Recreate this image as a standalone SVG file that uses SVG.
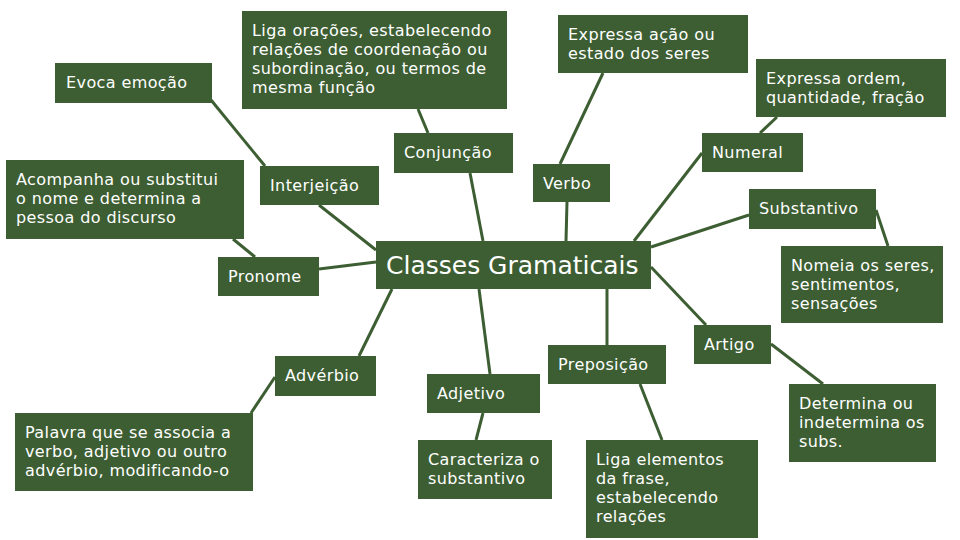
<svg xmlns="http://www.w3.org/2000/svg" width="960" height="540" viewBox="0 0 960 540">
<style>
.box{fill:#3d5e32}
.t{font-family:"DejaVu Sans","Noto Sans",sans-serif;font-size:16px;letter-spacing:0.4px;fill:#ffffff}
.title{font-family:"DejaVu Sans","Noto Sans",sans-serif;font-size:25px;fill:#ffffff}
#connectors line{stroke:#3d5e32;stroke-width:3;stroke-linecap:butt}
</style>
<rect x="0" y="0" width="960" height="540" fill="#ffffff"/>
<g id="connectors">
<line x1="211" y1="100" x2="265" y2="166"/>
<line x1="418" y1="109" x2="428" y2="133"/>
<line x1="470" y1="173" x2="483" y2="241"/>
<line x1="319" y1="205" x2="376" y2="250"/>
<line x1="233" y1="239" x2="255" y2="257"/>
<line x1="319" y1="269" x2="376" y2="262"/>
<line x1="603" y1="73" x2="560" y2="164"/>
<line x1="567" y1="202" x2="566" y2="241"/>
<line x1="702" y1="153" x2="634" y2="241"/>
<line x1="777" y1="117" x2="760" y2="133"/>
<line x1="749" y1="215" x2="651" y2="247"/>
<line x1="876" y1="210" x2="888" y2="246"/>
<line x1="651" y1="267" x2="706" y2="325"/>
<line x1="771" y1="344" x2="823" y2="384"/>
<line x1="479" y1="289" x2="490" y2="374"/>
<line x1="483" y1="413" x2="476" y2="440"/>
<line x1="607" y1="289" x2="607" y2="345"/>
<line x1="640" y1="384" x2="662" y2="440"/>
<line x1="359" y1="356" x2="392" y2="289"/>
<line x1="251" y1="413" x2="275" y2="377"/>
</g>
<g id="classes"><rect class="box" x="376" y="241" width="275" height="48"/><text class="title" x="386" y="274">Classes Gramaticais</text></g>
<g id="liga-oracoes"><rect class="box" x="242" y="11" width="265" height="98"/><text class="t"><tspan x="252" y="36">Liga orações, estabelecendo</tspan><tspan x="252" y="55">relações de coordenação ou</tspan><tspan x="252" y="74">subordinação, ou termos de</tspan><tspan x="252" y="93">mesma função</tspan></text></g>
<g id="evoca"><rect class="box" x="55" y="63" width="157" height="40"/><text class="t" x="66" y="88">Evoca emoção</text></g>
<g id="conjuncao"><rect class="box" x="394" y="133" width="119" height="40"/><text class="t" x="404" y="158">Conjunção</text></g>
<g id="interjeicao"><rect class="box" x="260" y="166" width="119" height="39"/><text class="t" x="270" y="191">Interjeição</text></g>
<g id="acompanha"><rect class="box" x="6" y="160" width="238" height="79"/><text class="t"><tspan x="16" y="185">Acompanha ou substitui</tspan><tspan x="16" y="204">o nome e determina a</tspan><tspan x="16" y="223">pessoa do discurso</tspan></text></g>
<g id="pronome"><rect class="box" x="218" y="257" width="101" height="39"/><text class="t" x="228" y="282">Pronome</text></g>
<g id="expressa-acao"><rect class="box" x="558" y="15" width="190" height="58"/><text class="t"><tspan x="568" y="40">Expressa ação ou</tspan><tspan x="568" y="59">estado dos seres</tspan></text></g>
<g id="expressa-ordem"><rect class="box" x="756" y="59" width="190" height="58"/><text class="t"><tspan x="766" y="84">Expressa ordem,</tspan><tspan x="766" y="103">quantidade, fração</tspan></text></g>
<g id="numeral"><rect class="box" x="702" y="133" width="101" height="39"/><text class="t" x="712" y="158">Numeral</text></g>
<g id="verbo"><rect class="box" x="533" y="164" width="77" height="38"/><text class="t" x="543" y="189">Verbo</text></g>
<g id="substantivo"><rect class="box" x="749" y="189" width="127" height="40"/><text class="t" x="759" y="214">Substantivo</text></g>
<g id="nomeia"><rect class="box" x="781" y="246" width="162" height="77"/><text class="t"><tspan x="791" y="271">Nomeia os seres,</tspan><tspan x="791" y="290">sentimentos,</tspan><tspan x="791" y="309">sensações</tspan></text></g>
<g id="adverbio"><rect class="box" x="275" y="356" width="101" height="40"/><text class="t" x="285" y="381">Advérbio</text></g>
<g id="palavra"><rect class="box" x="15" y="413" width="238" height="78"/><text class="t"><tspan x="25" y="438">Palavra que se associa a</tspan><tspan x="25" y="457">verbo, adjetivo ou outro</tspan><tspan x="25" y="476">advérbio, modificando-o</tspan></text></g>
<g id="adjetivo"><rect class="box" x="427" y="374" width="113" height="39"/><text class="t" x="437" y="399">Adjetivo</text></g>
<g id="caracteriza"><rect class="box" x="418" y="440" width="134" height="59"/><text class="t"><tspan x="428" y="465">Caracteriza o</tspan><tspan x="428" y="484">substantivo</tspan></text></g>
<g id="preposicao"><rect class="box" x="548" y="345" width="118" height="39"/><text class="t" x="558" y="370">Preposição</text></g>
<g id="liga-elementos"><rect class="box" x="586" y="440" width="172" height="98"/><text class="t"><tspan x="596" y="465">Liga elementos</tspan><tspan x="596" y="484">da frase,</tspan><tspan x="596" y="503">estabelecendo</tspan><tspan x="596" y="522">relações</tspan></text></g>
<g id="artigo"><rect class="box" x="694" y="325" width="77" height="39"/><text class="t" x="704" y="350">Artigo</text></g>
<g id="determina"><rect class="box" x="789" y="384" width="147" height="78"/><text class="t"><tspan x="799" y="409">Determina ou</tspan><tspan x="799" y="428">indetermina os</tspan><tspan x="799" y="447">subs.</tspan></text></g>
</svg>
